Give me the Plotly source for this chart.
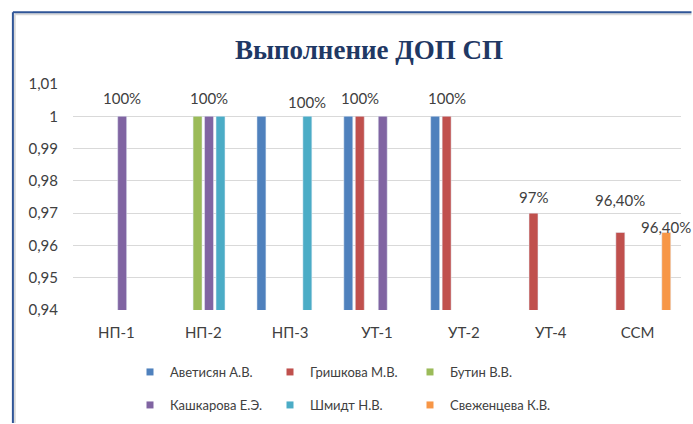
import plotly.graph_objects as go

# ---------------- data ----------------
categories = ["НП-1", "НП-2", "НП-3", "УТ-1", "УТ-2", "УТ-4", "ССМ"]
series_names = ["Аветисян А.В.", "Гришкова М.В.", "Бутин В.В.",
                "Кашкарова Е.Э.", "Шмидт Н.В.", "Свеженцева К.В."]
avetisyan = [None, None, 1, 1, 1, None, None]
grishkova = [None, None, None, 1, 1, 0.97, 0.964]
butin = [None, 1, None, None, None, None, None]
kashkarova = [1, 1, None, 1, None, None, None]
shmidt = [None, 1, 1, None, None, None, None]
svezhentseva = [None, None, None, None, None, None, 0.964]
series_values = [avetisyan, grishkova, butin, kashkarova, shmidt, svezhentseva]

tick_vals = [0.94, 0.95, 0.96, 0.97, 0.98, 0.99, 1.0, 1.01]
tick_text = ["0,94", "0,95", "0,96", "0,97", "0,98", "0,99", "1", "1,01"]

# data labels: (category, series index, text)
label_cats = ["НП-1", "НП-2", "НП-3", "УТ-1", "УТ-2", "УТ-4", "ССМ", "ССМ"]
label_series = [3, 3, 4, 1, 1, 1, 1, 5]
label_texts = ["100%", "100%", "100%", "100%", "100%", "97%", "96,40%", "96,40%"]

# ---------------- style ----------------
colors = ["#4F81BD", "#C0504D", "#9BBB59", "#8064A2", "#4BACC6", "#F79646"]
label_yshift = [18, 18, 14, 18, 18, 16, 33, 6]

W, H = 693, 424
ML, MR, MT, MB = 72.5, 11.5, 84, 114
BARGAP, BARGROUPGAP = 0.207, 0.22
plot_w = W - ML - MR
plot_h = H - MT - MB
cat_px = plot_w / len(categories)
slot_px = cat_px * (1 - BARGAP) / len(series_names)

fig = go.Figure()
for name, vals, col in zip(series_names, series_values, colors):
    fig.add_trace(go.Bar(x=categories, y=vals, name=name, marker_color=col,
                         showlegend=False, hoverinfo="x+y+name"))

# legend entries (small squares), split in two rows
for i, (name, col) in enumerate(zip(series_names, colors)):
    fig.add_trace(go.Scatter(x=[None], y=[None], mode="markers", name=name,
                             marker=dict(symbol="square", size=7, color=col),
                             legend="legend" if i < 3 else "legend2"))

# data label annotations
for cat, si, txt, ys in zip(label_cats, label_series, label_texts, label_yshift):
    val = series_values[si][categories.index(cat)]
    fig.add_annotation(x=cat, y=val, text=txt, showarrow=False,
                       xshift=(si - (len(series_names) - 1) / 2) * slot_px,
                       yshift=ys, yanchor="middle",
                       font=dict(family="Lato", size=15, color="#404040"))

def px_to_paper_x(px):
    return (px - ML) / plot_w

def px_to_paper_y(py):
    return (H - MB - py) / plot_h

# chart frame (blue line + light shadow), kept inside the figure bounds
shapes = []
for off, col in [(14.2, "#D9D9D9"), (12.3, "#2F5597")]:
    shapes.append(dict(type="line", xref="paper", yref="paper",
                       x0=px_to_paper_x(off), x1=px_to_paper_x(W - 1),
                       y0=px_to_paper_y(off), y1=px_to_paper_y(off),
                       line=dict(color=col, width=2)))
    shapes.append(dict(type="line", xref="paper", yref="paper",
                       x0=px_to_paper_x(off), x1=px_to_paper_x(off),
                       y0=px_to_paper_y(off), y1=px_to_paper_y(H - 1),
                       line=dict(color=col, width=2)))

legend_common = dict(orientation="h", xanchor="left", yanchor="middle",
                     xref="container", yref="container",
                     font=dict(family="Lato", size=13, color="#404040"),
                     entrywidth=95, entrywidthmode="pixels",
                     bgcolor="rgba(0,0,0,0)", itemclick=False)

fig.update_layout(
    width=W, height=H,
    margin=dict(l=ML, r=MR, t=MT, b=MB, pad=0),
    paper_bgcolor="white", plot_bgcolor="white",
    separators=", ",
    barmode="group", bargap=BARGAP, bargroupgap=BARGROUPGAP,
    title=dict(text="<b>Выполнение ДОП СП</b>", x=369 / W, xanchor="center",
               y=1 - 50 / H, yanchor="middle", yref="container",
               font=dict(family="Liberation Serif", size=27, color="#1F3864")),
    xaxis=dict(type="category", range=[-0.5, len(categories) - 0.5],
               showgrid=False, showline=False, ticks="",
               ticklabelstandoff=12, automargin=False,
               tickfont=dict(family="Lato", size=15, color="#404040")),
    yaxis=dict(range=[0.94, 1.01], tickvals=tick_vals, ticktext=tick_text,
               showgrid=True, gridcolor="#D9D9D9", gridwidth=1.3,
               zeroline=False, showline=False, ticks="",
               ticklabelstandoff=14, automargin=False,
               tickfont=dict(family="Lato", size=15, color="#404040")),
    legend=dict(x=130 / W, y=1 - 372 / H, **legend_common),
    legend2=dict(x=130 / W, y=1 - 405 / H, **legend_common),
    shapes=shapes,
    showlegend=True,
)

fig.write_html("out.html", config={"displayModeBar": False},
               post_script="document.body.style.margin='0';"
                           "document.body.style.overflow='hidden';"
                           "document.documentElement.style.overflow='hidden';")
